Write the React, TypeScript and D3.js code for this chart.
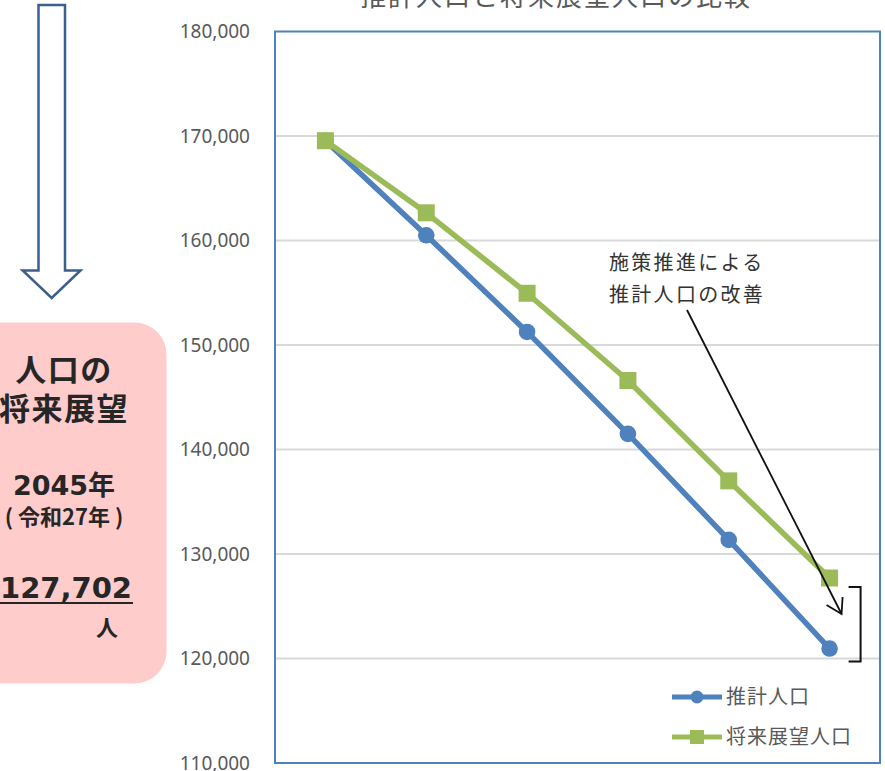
import React from "react";
import * as d3 from "d3";

// chart values
const years = ["2020", "2025", "2030", "2035", "2040", "2045"];
const estimated = [169550, 160500, 151250, 141500, 131350, 120950];
const projected = [169550, 162650, 154950, 146600, 137000, 127702];
const yTicks = [110000, 120000, 130000, 140000, 150000, 160000, 170000, 180000];
const seriesNames = ["推計人口", "将来展望人口"];

const width = 885;
const height = 771;
const plotLeft = 275;
const plotRight = 880;
const plotTop = 31.5;
const plotBottom = 763;

const BLUE = "#4F81BD";
const GREEN = "#9BBB59";
const GRAY = "#595959";
const JP = "'Noto Sans CJK JP', 'Noto Sans', sans-serif";

export default function App() {
  const x = d3.scaleBand().domain(years).range([plotLeft, plotRight]);
  const y = d3.scaleLinear().domain([110000, 180000]).range([plotBottom, plotTop]);
  const cx = (d: string) => (x(d) as number) + x.bandwidth() / 2;

  const line = d3
    .line<number>()
    .x((_, i) => cx(years[i]))
    .y((d) => y(d));

  const fmt = d3.format(",");
  const last = years[years.length - 1];
  const lx = cx(last);

  return (
    <div style={{ position: "absolute", left: 0, top: 0 }}>
      <svg width={width} height={height} style={{ display: "block", background: "#fff" }}>
        {/* left: down arrow */}
        <path
          d="M38.5,5 H65 V270.5 H80.5 L51.7,298 L22.7,270.5 H38.5 Z"
          fill="#fff"
          stroke="#3B5F8E"
          strokeWidth={2.5}
        />
        {/* left: pink box */}
        <rect x={-40} y={322.5} width={206.5} height={361} rx={32} fill="#FFCCCC" />
        <g fill="#262626" fontFamily={JP} fontWeight={700} textAnchor="middle">
          <text x={64} y={381} fontSize={31} letterSpacing={1.5}>人口の</text>
          <text x={64} y={420} fontSize={31} letterSpacing={1.5}>将来展望</text>
          <text x={64} y={495} fontSize={27} fontFamily="'DejaVu Sans', sans-serif">
            2045<tspan fontFamily={JP}>年</tspan>
          </text>
          <text x={64} y={525} fontSize={22}>
            (<tspan dx={5}>令和27年</tspan><tspan dx={5}>)</tspan>
          </text>
          <text x={66} y={598} fontSize={29} fontFamily="'DejaVu Sans', sans-serif">127,702</text>
          <text x={107} y={636} fontSize={22}>人</text>
        </g>
        <line x1={0} x2={133} y1={603} y2={603} stroke="#262626" strokeWidth={2} />

        {/* title (cropped at the top) */}
        <text
          x={556}
          y={6}
          textAnchor="middle"
          fontFamily={JP}
          fontSize={26}
          letterSpacing={2}
          fill={GRAY}
        >
          推計人口と将来展望人口の比較
        </text>

        {/* gridlines */}
        <g stroke="#D9D9D9" strokeWidth={1.8}>
          {yTicks.slice(1, -1).map((t) => (
            <line key={t} x1={plotLeft} x2={plotRight} y1={y(t)} y2={y(t)} />
          ))}
        </g>
        {/* y tick labels */}
        <g fill={GRAY} fontFamily="'Noto Sans', sans-serif" fontSize={19} textAnchor="end">
          {yTicks.map((t) => (
            <text key={t} x={250} y={y(t)} dy="0.35em">
              {fmt(t)}
            </text>
          ))}
        </g>

        {/* series */}
        <path d={line(estimated) || ""} fill="none" stroke={BLUE} strokeWidth={5.5} strokeLinejoin="round" />
        <path d={line(projected) || ""} fill="none" stroke={GREEN} strokeWidth={5.5} strokeLinejoin="round" />
        {estimated.map((v, i) => (
          <circle key={"e" + i} cx={cx(years[i])} cy={y(v)} r={8.3} fill={BLUE} />
        ))}
        {projected.map((v, i) => (
          <rect key={"p" + i} x={cx(years[i]) - 8.5} y={y(v) - 8.5} width={17} height={17} fill={GREEN} />
        ))}

        {/* annotation */}
        <g fontFamily={JP} fontSize={20} letterSpacing={2.3} fill="#333">
          <text x={609} y={270}>施策推進による</text>
          <text x={609} y={302}>推計人口の改善</text>
        </g>
        <g stroke="#111" strokeWidth={1.8} fill="none">
          <line x1={687} y1={310} x2={lx + 12} y2={614} />
          <polyline points={`${lx - 3},605 ${lx + 12},614 ${lx + 13},597`} />
          <path
            d={`M${lx + 19},${y(projected[5]) + 9} H${lx + 31} V${y(estimated[5]) + 13} H${lx + 19}`}
            strokeWidth={2}
          />
        </g>

        {/* legend */}
        <g fontFamily={JP} fontSize={20} letterSpacing={1} fill={GRAY}>
          <line x1={672} x2={722} y1={697} y2={697} stroke={BLUE} strokeWidth={5} />
          <circle cx={697} cy={697} r={6.5} fill={BLUE} />
          <text x={726} y={704}>{seriesNames[0]}</text>
          <line x1={672} x2={722} y1={737} y2={737} stroke={GREEN} strokeWidth={5} />
          <rect x={690} y={730} width={14} height={14} fill={GREEN} />
          <text x={726} y={744}>{seriesNames[1]}</text>
        </g>

        {/* plot frame */}
        <rect
          x={plotLeft}
          y={plotTop}
          width={plotRight - plotLeft}
          height={plotBottom - plotTop}
          fill="none"
          stroke={BLUE}
          strokeWidth={2}
        />
      </svg>
    </div>
  );
}
